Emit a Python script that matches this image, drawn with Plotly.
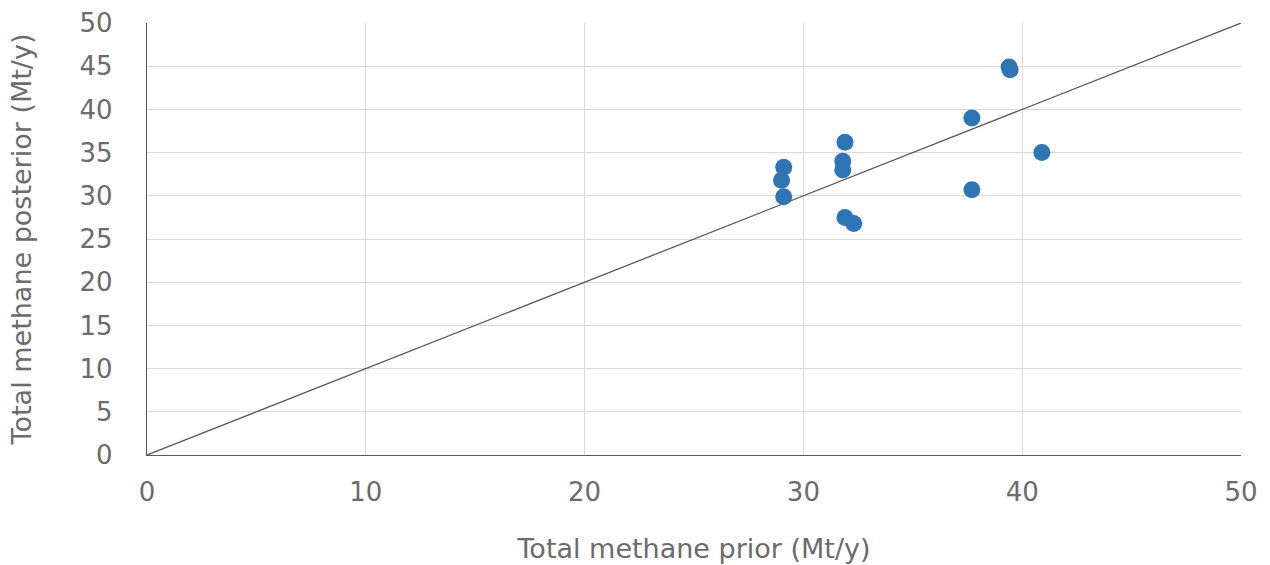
import plotly.graph_objects as go

# Total methane emissions: prior estimate vs. inversion posterior (Mt/y)
prior = [29.1, 29.0, 29.1, 31.9, 31.8, 31.8, 31.9, 32.3, 37.7, 37.7, 39.4, 39.45, 40.9]
posterior = [33.3, 31.8, 29.9, 36.2, 34.0, 33.0, 27.5, 26.8, 39.0, 30.7, 44.9, 44.6, 35.0]

# 1:1 reference line
line_x = [0, 50]
line_y = [0, 50]

font_family = "'DejaVu Sans', sans-serif"
text_color = "#6b6b6b"

fig = go.Figure()
fig.add_trace(go.Scatter(
    x=line_x, y=line_y, mode="lines",
    line=dict(color="#595959", width=1.3),
    hoverinfo="skip", showlegend=False,
))
fig.add_trace(go.Scatter(
    x=prior, y=posterior, mode="markers",
    marker=dict(color="#2E75B6", size=17, line=dict(width=0)),
    showlegend=False,
))

fig.update_layout(
    width=1270, height=565,
    margin=dict(l=147, r=29, t=23, b=110),
    plot_bgcolor="white", paper_bgcolor="white",
    font=dict(family=font_family, color=text_color, size=26),
)
fig.update_xaxes(
    range=[0, 50], dtick=10, tick0=0, automargin=False,
    showgrid=True, gridcolor="#d9d9d9", gridwidth=1,
    showline=True, linecolor="#595959", linewidth=1.3,
    zeroline=False, ticks="", ticklabelstandoff=14,
    tickfont=dict(size=26, color=text_color),
    title=dict(text="Total methane prior (Mt/y)", font=dict(size=27, color=text_color), standoff=32),
)
fig.update_yaxes(
    range=[0, 50], dtick=5, tick0=0, automargin=False,
    showgrid=True, gridcolor="#d9d9d9", gridwidth=1,
    showline=True, linecolor="#595959", linewidth=1.3,
    zeroline=False, ticks="", ticklabelstandoff=28,
    tickfont=dict(size=26, color=text_color),
    title=dict(text="Total methane posterior (Mt/y)", font=dict(size=27, color=text_color), standoff=40),
)

fig.write_html("out.html")
